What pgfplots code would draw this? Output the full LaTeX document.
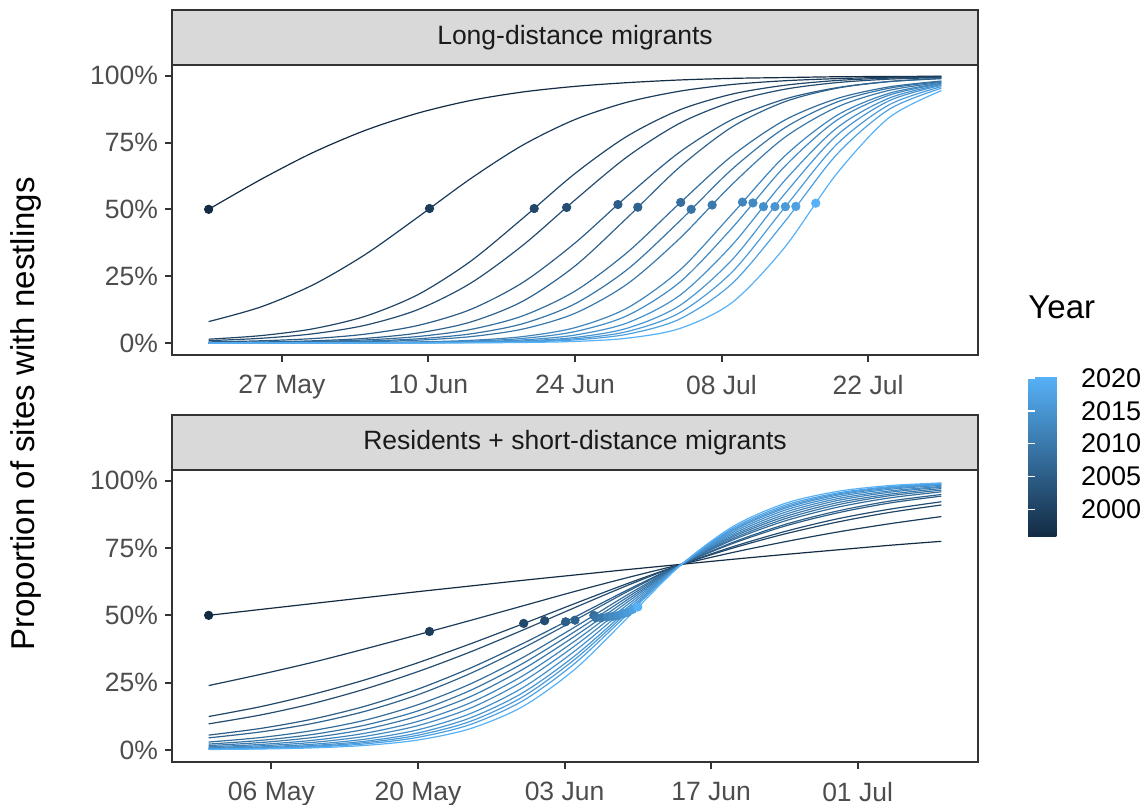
\documentclass[border=0pt]{standalone}
\usepackage{pgfplots}
\pgfplotsset{compat=1.18}
\usepackage{pgfplotstable}
\usepackage{fontspec}
\setmainfont{Liberation Sans}
\definecolor{grey20}{RGB}{51,51,51}
\definecolor{grey30}{RGB}{77,77,77}
\definecolor{grey10}{RGB}{26,26,26}
\definecolor{stripgrey}{RGB}{217,217,217}
\definecolor{c1}{RGB}{19,43,67}
\definecolor{c2}{RGB}{27,60,90}
\definecolor{c3}{RGB}{33,71,104}
\definecolor{c4}{RGB}{36,77,112}
\definecolor{c5}{RGB}{44,93,135}
\definecolor{c6}{RGB}{47,99,142}
\definecolor{c7}{RGB}{53,110,157}
\definecolor{c8}{RGB}{55,116,165}
\definecolor{c9}{RGB}{58,121,172}
\definecolor{c10}{RGB}{64,132,187}
\definecolor{c11}{RGB}{66,138,195}
\definecolor{c12}{RGB}{69,144,202}
\definecolor{c13}{RGB}{72,149,210}
\definecolor{c14}{RGB}{75,155,217}
\definecolor{c15}{RGB}{78,160,225}
\definecolor{c16}{RGB}{86,177,247}

\pgfplotstableread{
x T1 T2 T3 T4 T5 T6 T7 T8 T9 T10 T11 T12 T13 T14 T15 T16
140 0.500 0.080 0.0141 0.0088 0.0040 0.0017 0.0012 0.0007 0.0004 0.0001 0.0001 0.0000 0.0000 0.0000 0.0000 0.0000
145 0.612 0.135 0.0276 0.0175 0.0082 0.0037 0.0026 0.0015 0.0009 0.0003 0.0002 0.0001 0.0000 0.0000 0.0000 0.0000
150 0.713 0.218 0.0533 0.0345 0.0165 0.0081 0.0054 0.0032 0.0021 0.0006 0.0004 0.0002 0.0001 0.0001 0.0001 0.0000
155 0.796 0.332 0.1005 0.0667 0.0332 0.0174 0.0115 0.0071 0.0047 0.0016 0.0010 0.0006 0.0004 0.0002 0.0002 0.0001
160 0.860 0.471 0.181 0.125 0.0656 0.0373 0.0242 0.0156 0.0105 0.0040 0.0026 0.0016 0.0010 0.0007 0.0005 0.0002
165 0.907 0.614 0.305 0.223 0.125 0.0781 0.0503 0.0339 0.0236 0.0098 0.0067 0.0043 0.0027 0.0020 0.0014 0.0006
170 0.939 0.740 0.466 0.365 0.226 0.156 0.1014 0.0720 0.052 0.0239 0.0170 0.0113 0.0076 0.0056 0.0040 0.0019
175 0.960 0.836 0.634 0.535 0.374 0.288 0.194 0.1466 0.111 0.0573 0.0426 0.0296 0.0207 0.0156 0.0116 0.0058
180 0.974 0.901 0.774 0.697 0.550 0.469 0.339 0.275 0.221 0.131 0.1025 0.0752 0.0554 0.0429 0.0328 0.0180
185 0.984 0.942 0.872 0.822 0.714 0.658 0.523 0.456 0.391 0.272 0.227 0.178 0.140 0.113 0.0895 0.054
190 0.990 0.967 0.931 0.902 0.836 0.808 0.700 0.650 0.593 0.482 0.430 0.366 0.311 0.265 0.222 0.151
195 0.993 0.981 0.964 0.949 0.912 0.902 0.833 0.804 0.768 0.698 0.659 0.606 0.556 0.505 0.452 0.356
200 0.996 0.989 0.982 0.974 0.955 0.953 0.914 0.901 0.882 0.851 0.833 0.804 0.776 0.743 0.705 0.633
205 0.997 0.994 0.991 0.987 0.978 0.978 0.958 0.953 0.945 0.934 0.927 0.916 0.906 0.891 0.874 0.843
210 0.998 0.997 0.995 0.993 0.989 0.990 0.980 0.978 0.975 0.972 0.970 0.967 0.964 0.959 0.953 0.944
}\toptab

\pgfplotstableread{
x B1 B2 B3 B4 B5 B6 B7 B8 B9 B10 B11 B12 B13 B14 B15 B16
120 0.500 0.239 0.124 0.0967 0.0549 0.0447 0.0292 0.0216 0.0161 0.0115 0.0083 0.0058 0.0042 0.0032 0.0024 0.0015
125 0.522 0.281 0.161 0.130 0.080 0.0669 0.0461 0.0355 0.0274 0.0204 0.0153 0.0111 0.0083 0.0065 0.0050 0.0034
130 0.544 0.326 0.207 0.173 0.115 0.0989 0.0723 0.0578 0.0463 0.0358 0.0280 0.0212 0.0165 0.0134 0.0106 0.0076
135 0.566 0.376 0.261 0.227 0.163 0.144 0.111 0.0926 0.0770 0.0623 0.0508 0.0402 0.0325 0.0272 0.0224 0.0168
140 0.588 0.428 0.324 0.291 0.226 0.205 0.168 0.145 0.126 0.106 0.0902 0.0747 0.063 0.0546 0.0466 0.0368
145 0.609 0.481 0.394 0.364 0.304 0.284 0.245 0.221 0.198 0.175 0.155 0.135 0.119 0.106 0.0944 0.0789
150 0.630 0.535 0.468 0.445 0.395 0.378 0.343 0.321 0.299 0.275 0.254 0.231 0.212 0.197 0.182 0.161
155 0.650 0.589 0.544 0.529 0.494 0.482 0.457 0.440 0.423 0.405 0.387 0.368 0.350 0.337 0.322 0.300
160 0.670 0.640 0.618 0.611 0.594 0.588 0.576 0.567 0.558 0.549 0.539 0.529 0.519 0.511 0.503 0.490
165 0.689 0.688 0.687 0.687 0.687 0.686 0.686 0.686 0.685 0.685 0.685 0.684 0.684 0.684 0.684 0.683
170 0.708 0.733 0.749 0.754 0.766 0.770 0.779 0.784 0.790 0.795 0.801 0.807 0.813 0.817 0.822 0.828
175 0.726 0.773 0.802 0.811 0.831 0.837 0.850 0.858 0.866 0.874 0.882 0.890 0.897 0.902 0.908 0.915
180 0.743 0.809 0.846 0.858 0.880 0.887 0.901 0.910 0.918 0.926 0.933 0.940 0.946 0.950 0.954 0.960
185 0.760 0.840 0.882 0.894 0.917 0.924 0.936 0.944 0.950 0.957 0.962 0.968 0.972 0.975 0.978 0.982
190 0.775 0.867 0.910 0.922 0.943 0.949 0.959 0.965 0.971 0.976 0.979 0.983 0.986 0.988 0.990 0.992
}\bottab

\pgfplotstableread{
x y year
140.0 0.500 1996
161.1 0.503 1999
171.1 0.503 2001
174.2 0.507 2002
179.1 0.518 2005
181.0 0.508 2006
185.1 0.526 2008
186.1 0.500 2009
188.1 0.516 2010
191.0 0.527 2012
192.0 0.524 2013
193.0 0.510 2014
194.1 0.510 2015
195.1 0.510 2016
196.1 0.511 2017
198.0 0.523 2020
}\topdots

\pgfplotstableread{
x y year
120.0 0.500 1996
141.1 0.440 1999
150.1 0.470 2001
152.1 0.480 2002
154.1 0.476 2005
155.0 0.482 2006
156.8 0.500 2008
157.0 0.491 2009
157.5 0.491 2010
158.1 0.494 2012
158.6 0.496 2013
159.1 0.499 2014
159.6 0.506 2015
160.0 0.511 2016
160.5 0.522 2017
161.0 0.531 2020
}\botdots

\pgfplotsset{
  colormap={ggblue}{rgb255=(19,43,67) rgb255=(86,177,247)},
  panel/.style={
    scale only axis, width=403bp,
    ymin=-0.045, ymax=1.04,
    ytick={0,0.25,0.5,0.75,1},
    yticklabels={0\%,25\%,50\%,75\%,100\%},
    axis line style={grey20, line width=1bp},
    major tick style={grey20, line width=1bp},
    major tick length=3.5bp,
    tick align=outside, tick pos=left,
    minor tick num=0,
    xticklabel style={font=\fontsize{13.25bp}{15bp}\selectfont, text=grey30, yshift=-3bp},
    yticklabel style={font=\fontsize{13.25bp}{15bp}\selectfont, text=grey30},
    point meta min=1995.85, point meta max=2020.15,
  },
  curve/.style={line width=0.6bp, smooth, no markers},
  dots/.style={scatter, only marks, mark=*, mark size=2.1bp,
    point meta=explicit,
    scatter/use mapped color={draw=mapped color, fill=mapped color}},
}

\begin{document}
\begin{tikzpicture}
\path[use as bounding box] (0,0) rectangle (571.5bp,-402.5bp);

\begin{axis}[panel, name=top, at={(86bp,-32.5bp)}, anchor=north west,
  height=145bp, xmin=136.5, xmax=213.5,
  xtick={147,161,175,189,203},
  xticklabels={27 May,10 Jun,24 Jun,08 Jul,22 Jul}]
\pgfplotsinvokeforeach{1,...,16}{
  \addplot[curve, c#1] table[x=x, y=T#1]{\toptab};
}
\addplot[dots] table[x=x, y=y, meta=year]{\topdots};
\end{axis}

\begin{axis}[panel, name=bot, at={(86bp,-235bp)}, anchor=north west,
  height=146bp, xmin=116.5, xmax=193.5,
  xtick={126,140,154,168,182},
  xticklabels={06 May,20 May,03 Jun,17 Jun,01 Jul}]
\pgfplotsinvokeforeach{1,...,16}{
  \addplot[curve, c#1] table[x=x, y=B#1]{\bottab};
}
\addplot[dots] table[x=x, y=y, meta=year]{\botdots};
\end{axis}

% holder axis for the colour bar legend
\begin{axis}[name=cbholder, at={(505.5bp,-188.4bp)}, anchor=north east,
  scale only axis, width=1bp, height=80bp,
  xmin=0, xmax=1, ymin=0, ymax=1,
  axis line style={draw=none}, xtick=\empty, ytick=\empty,
  point meta min=1995.85, point meta max=2020.15,
  colorbar,
  colorbar style={
    scale only axis,
    width=22.5bp, height=80bp,
    ytick={2000,2005,2010,2015,2020},
    yticklabels={2000,2005,2010,2015,2020},
    yticklabel style={font=\fontsize{13.5bp}{15bp}\selectfont, text=black, xshift=0.5bp},
    axis line style={draw=none},
    major tick style={draw=white, line width=0.8bp},
    major tick length=3.3bp,
    tick align=inside, ytick pos=both, yticklabel pos=right,
  }]
\addplot[draw=none, forget plot] coordinates {(0,0)};
\end{axis}

% facet strips
\draw[fill=stripgrey, draw=grey20, line width=1bp] (top.north west) rectangle ([yshift=27.5bp]top.north east);
\node[font=\fontsize{13.25bp}{15bp}\selectfont, text=grey10] at ([yshift=13.75bp]top.north) {Long-distance migrants};
\draw[fill=stripgrey, draw=grey20, line width=1bp] (bot.north west) rectangle ([yshift=27.5bp]bot.north east);
\node[font=\fontsize{13.25bp}{15bp}\selectfont, text=grey10] at ([yshift=13.75bp]bot.north) {Residents + short-distance migrants};

% y label
\node[rotate=90, font=\fontsize{16.5bp}{18bp}\selectfont, text=black] at (13bp,-207bp) {Proportion of sites with nestlings};

% legend title
\node[anchor=base west, inner sep=0pt, font=\fontsize{16.5bp}{18bp}\selectfont, text=black] at (514bp,-159bp) {Year};
\end{tikzpicture}
\end{document}
